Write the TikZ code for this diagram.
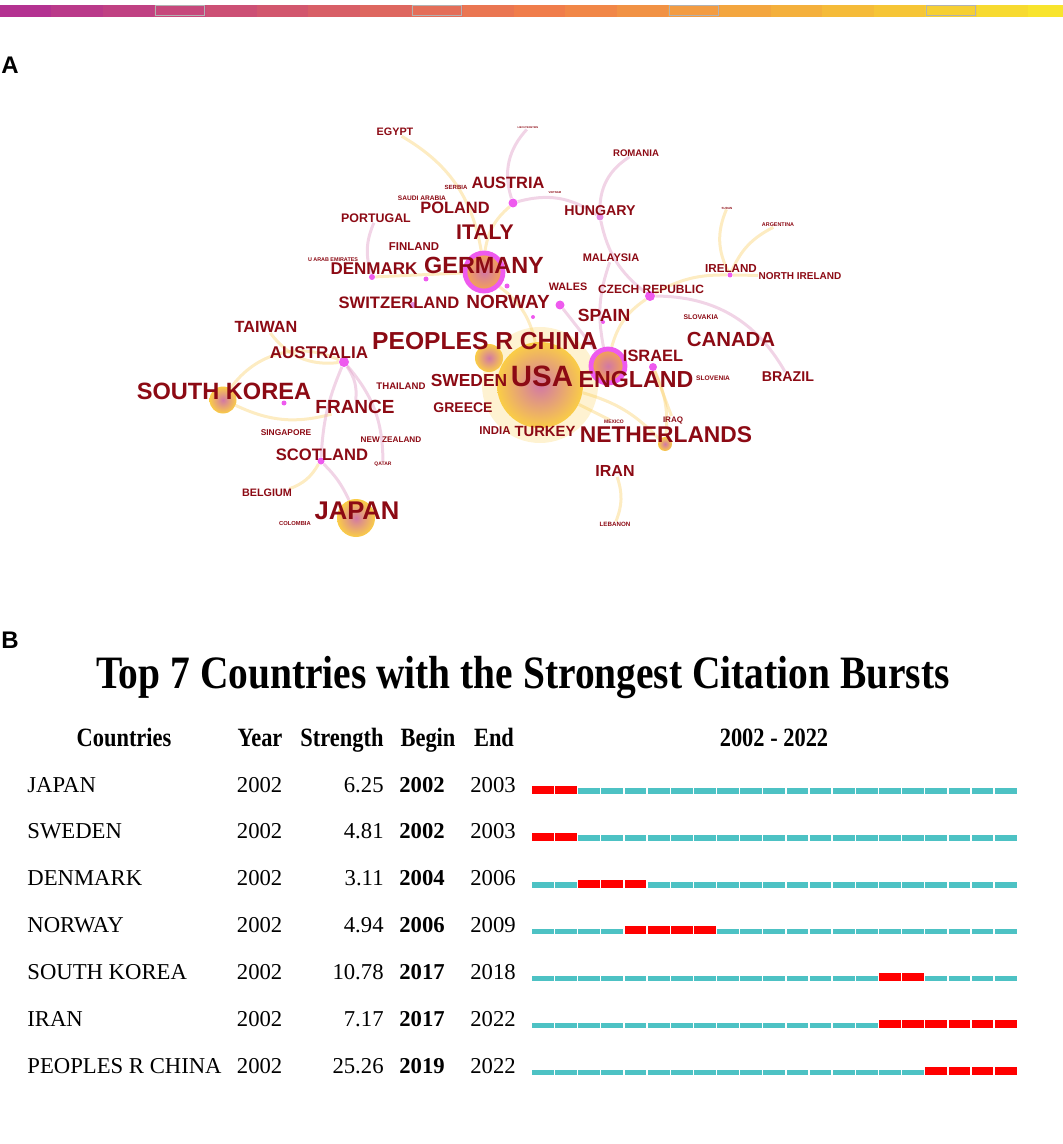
\documentclass[tikz,border=0pt]{standalone}
\usepackage{fontspec}
\setmainfont{Liberation Serif}
\setsansfont{Liberation Sans}
\newfontfamily\condfont[FakeStretch=0.85]{Liberation Serif}
\usetikzlibrary{backgrounds}
\definecolor{labred}{RGB}{140,10,20}
\definecolor{magdot}{RGB}{238,90,238}
\definecolor{lilac}{RGB}{228,140,228}
\definecolor{blobyel}{RGB}{250,205,70}
\definecolor{blobpink}{RGB}{210,120,165}
\definecolor{bloborg}{RGB}{246,165,80}
\definecolor{linky}{RGB}{250,212,120}
\definecolor{linkp}{RGB}{225,160,200}
\definecolor{barA}{RGB}{180,50,145}
\definecolor{barB}{RGB}{240,125,75}
\definecolor{barC}{RGB}{248,228,45}
\definecolor{burstteal}{RGB}{77,194,196}
\definecolor{burstred}{RGB}{255,0,0}
\tikzset{
    cty/.style={text=labred,inner sep=0pt,font=\sffamily\bfseries\fontsize{#1}{#1}\selectfont},
    dot/.style={circle,fill=magdot,inner sep=0pt,minimum size=#1},
    blob/.style={circle,inner sep=0pt,minimum size=#1,inner color=blobpink,outer color=blobyel},
    ringblob/.style={circle,inner sep=0pt,minimum size=#1,draw=magdot,line width=2.4pt,inner color=blobpink,outer color=bloborg},
    halo/.style={circle,inner sep=0pt,minimum size=#1,fill=blobyel,opacity=0.25},
    linky/.style={draw=linky,line width=1.5pt,opacity=0.45},
    linkp/.style={draw=linkp,line width=1.5pt,opacity=0.45},
    panel/.style={font=\sffamily\bfseries\fontsize{12}{12}\selectfont,inner sep=0pt},
    cell/.style={inner sep=0pt,font=\fontsize{11.35}{11.35}\selectfont},
    headcell/.style={inner sep=0pt,font=\condfont\bfseries\fontsize{13.2}{13.2}\selectfont},
    seg/.style={fill=burstteal},
    burst/.style={fill=burstred}
}

\begin{document}
\begin{tikzpicture}[x=0.5pt,y=-0.5pt]
    \useasboundingbox (0,0) rectangle (1063,1144);
    % colour strip
    \foreach \i in {0,...,20} {
        \pgfmathtruncatemacro{\mixa}{100-10*\i}
        \pgfmathtruncatemacro{\mixb}{200-10*\i}
        \pgfmathtruncatemacro{\m}{mod(\i,5)}
        \ifnum\i<11 \colorlet{segc}{barA!\mixa!barB}\else \colorlet{segc}{barB!\mixb!barC}\fi
        \fill[segc] ({51.4*\i},5) rectangle ({min(51.4*\i+51.4,1063)},17);
        \ifnum\m=3 \draw[gray!60,line width=0.5pt] ({51.4*\i+1},6) rectangle ({51.4*\i+50.4},16);\fi
    }
    \node[panel] (pa) at (10,65) {A};
    \node[panel] (pb) at (10,640) {B};

    % network
    \node[halo=58] (h-usa) at (540,385) {};
    \node[blob=43] (b-usa) at (540,385) {};
    \node[blob=14] (b-china) at (489,358) {};
    \node[blob=13.5] (b-korea) at (223,400) {};
    \node[blob=19] (b-japan) at (356,518) {};
    \node[blob=7] (b-nether) at (665,444) {};
    \node[ringblob=19] (b-germany) at (484,272) {};
    \node[ringblob=17] (b-england) at (608,366) {};
    \node[dot=4.5] (d-austria) at (513,203) {};
    \node[dot=3.5,fill=lilac] (d-hungary) at (600,217) {};
    \node[dot=5] (d-czech) at (650,296) {};
    \node[dot=2.5] (d-ireland) at (730,275) {};
    \node[dot=4.5] (d-wales) at (560,305) {};
    \node[dot=2] (d-spain) at (603,322) {};
    \node[dot=4] (d-israel) at (653,367) {};
    \node[dot=2] (d-norway) at (533,317) {};
    \node[dot=5] (d-australia) at (344,362) {};
    \node[dot=2.5] (d-korea) at (284,403) {};
    \node[dot=3.5] (d-scotland) at (321,461) {};
    \node[dot=3] (d-denmark) at (372,277) {};
    \node[dot=2.5] (d-finland) at (426,279) {};
    \node[dot=2.5] (d-germany) at (507,286) {};
    \node[dot=3,fill=lilac] (d-switz) at (413,305) {};

    \node[cty=1.3] (liecht) at (528,128) {LIECHTENSTEIN};
    \node[cty=5.4] (egypt) at (395,132) {EGYPT};
    \node[cty=4.8] (romania) at (636,153) {ROMANIA};
    \node[cty=3] (serbia) at (456,187) {SERBIA};
    \node[cty=8.2] (austria) at (508,183) {AUSTRIA};
    \node[cty=1.4] (vietnam) at (555,193) {VIETNAM};
    \node[cty=3.3] (saudi) at (422,198) {SAUDI ARABIA};
    \node[cty=8.2] (poland) at (455,208) {POLAND};
    \node[cty=7.1] (hungary) at (600,211) {HUNGARY};
    \node[cty=1.5] (sudan) at (727,208) {SUDAN};
    \node[cty=2.7] (argentina) at (778,225) {ARGENTINA};
    \node[cty=6.2] (portugal) at (376,218) {PORTUGAL};
    \node[cty=10.6] (italy) at (485,232) {ITALY};
    \node[cty=5.7] (finland) at (414,247) {FINLAND};
    \node[cty=5.5] (malaysia) at (611,258) {MALAYSIA};
    \node[cty=2.7] (uae) at (333,259.5) {U ARAB EMIRATES};
    \node[cty=8.5] (denmark) at (374,269) {DENMARK};
    \node[cty=11.7] (germany) at (484,265) {GERMANY};
    \node[cty=5.8] (ireland) at (731,269) {IRELAND};
    \node[cty=5] (nireland) at (800,276) {NORTH IRELAND};
    \node[cty=5.4] (wales) at (568,287) {WALES};
    \node[cty=6] (czech) at (651,289) {CZECH REPUBLIC};
    \node[cty=8.3] (switz) at (399,303) {SWITZERLAND};
    \node[cty=9.5] (norway) at (508,302) {NORWAY};
    \node[cty=8.8] (spain) at (604,315) {SPAIN};
    \node[cty=3.4] (slovakia) at (701,317) {SLOVAKIA};
    \node[cty=8.1] (taiwan) at (266,327) {TAIWAN};
    \node[cty=12.3] (china) at (485,341) {PEOPLES R CHINA};
    \node[cty=10.2] (canada) at (731,339) {CANADA};
    \node[cty=8.5] (australia) at (319,353) {AUSTRALIA};
    \node[cty=8.2] (israel) at (653,356) {ISRAEL};
    \node[cty=14.7] (usa) at (542,376) {USA};
    \node[cty=11.6] (england) at (636,380) {ENGLAND};
    \node[cty=8.7] (sweden) at (469,381) {SWEDEN};
    \node[cty=4.8] (thailand) at (401,386) {THAILAND};
    \node[cty=3.3] (slovenia) at (713,378) {SLOVENIA};
    \node[cty=7.1] (brazil) at (788,377) {BRAZIL};
    \node[cty=11.8] (korea) at (224,391) {SOUTH KOREA};
    \node[cty=9.5] (france) at (355,407) {FRANCE};
    \node[cty=7] (greece) at (463,408) {GREECE};
    \node[cty=2.5] (mexico) at (614,422) {MEXICO};
    \node[cty=4] (iraq) at (673,420) {IRAQ};
    \node[cty=4.2] (singapore) at (286,433) {SINGAPORE};
    \node[cty=5.7] (india) at (495,431) {INDIA};
    \node[cty=7.4] (turkey) at (545,431) {TURKEY};
    \node[cty=11.4] (nether) at (666,435) {NETHERLANDS};
    \node[cty=4.1] (nzealand) at (391,440) {NEW ZEALAND};
    \node[cty=8.3] (scotland) at (322,455) {SCOTLAND};
    \node[cty=2.5] (qatar) at (383,464) {QATAR};
    \node[cty=8] (iran) at (615,471) {IRAN};
    \node[cty=5.4] (belgium) at (267,493) {BELGIUM};
    \node[cty=12.8] (japan) at (357,511) {JAPAN};
    \node[cty=2.9] (colombia) at (295,524) {COLOMBIA};
    \node[cty=3.1] (lebanon) at (615,524) {LEBANON};

    \begin{pgfonlayer}{background}
    \draw[linky] (egypt) to[bend left=25] (b-germany);
    \draw[linkp] (liecht) to[bend right=30] (d-austria);
    \draw[linkp] (d-austria) to[bend left=25] (d-hungary);
    \draw[linkp] (romania) to[bend right=30] (d-hungary);
    \draw[linkp] (d-hungary) to[bend right=20] (d-czech);
    \draw[linky] (sudan) to[bend right=25] (d-ireland);
    \draw[linky] (argentina) to[bend right=20] (d-ireland);
    \draw[linky] (d-ireland) to[bend right=15] (d-czech);
    \draw[linky] (nireland) -- (d-ireland);
    \draw[linkp] (d-czech) to[bend left=30] (brazil);
    \draw[linky] (d-czech) to[bend right=20] (b-england);
    \draw[linky] (d-austria) to[bend right=20] (b-germany);
    \draw[linkp] (portugal) to[bend right=20] (d-denmark);
    \draw[linky] (d-denmark) -- (b-germany);
    \draw[linky] (taiwan) to[bend right=30] (d-australia);
    \draw[linky] (b-korea) to[bend left=40] (d-australia);
    \draw[linky] (b-korea) to[bend right=20] (france);
    \draw[linkp] (d-australia) to[bend left=20] (france);
    \draw[linkp] (d-australia) to[bend right=10] (d-scotland);
    \draw[linkp] (d-scotland) to[bend left=10] (b-japan);
    \draw[linky] (belgium) to[bend right=20] (d-scotland);
    \draw[linkp] (qatar) to[bend right=20] (d-australia);
    \draw[linky] (b-china) -- (b-usa);
    \draw[linky] (b-usa) -- (b-england);
    \draw[linky] (b-usa) to[bend right=20] (b-germany);
    \draw[linky] (b-usa) to[bend left=15] (b-nether);
    \draw[linky] (iran) to[bend left=20] (lebanon);
    \draw[linky] (d-israel) to[bend left=15] (b-nether);
    \draw[linky] (iraq) -- (d-israel);
    \draw[linkp] (d-wales) -- (b-england);
    \draw[linky] (mexico) -- (b-usa);
    \draw[linkp] (malaysia) to[bend right=15] (b-england);
    \end{pgfonlayer}

    % burst table
    \node[inner sep=0pt,anchor=base,font=\condfont\bfseries\fontsize{23.2}{23.2}\selectfont] (title) at (523,688) {Top 7 Countries with the Strongest Citation Bursts};
    \node[headcell,anchor=base] (hcty) at (124,746) {Countries};
    \node[headcell,anchor=base] (hyear) at (260,746) {Year};
    \node[headcell,anchor=base] (hstr) at (342,746) {Strength};
    \node[headcell,anchor=base] (hbeg) at (428,746) {Begin};
    \node[headcell,anchor=base] (hend) at (494,746) {End};
    \node[headcell,anchor=base] (hspan) at (774,746) {2002 - 2022};
    \foreach \name/\str/\beg/\fin/\ra/\rb [count=\r from 0] in {JAPAN/6.25/2002/2003/0/1, SWEDEN/4.81/2002/2003/0/1, DENMARK/3.11/2004/2006/2/4, NORWAY/4.94/2006/2009/4/7, SOUTH KOREA/10.78/2017/2018/15/16, IRAN/7.17/2017/2022/15/20, PEOPLES R CHINA/25.26/2019/2022/17/20} {
        \pgfmathsetmacro{\yb}{792+46.9*\r}
        \node[cell,anchor=base west] (cty\r) at (27,\yb) {\name};
        \node[cell,anchor=base west] (yr\r) at (236.5,\yb) {2002};
        \node[cell,anchor=base east] (str\r) at (384,\yb) {\str};
        \node[cell,anchor=base,font=\bfseries\fontsize{11.35}{11.35}\selectfont] (beg\r) at (422,\yb) {\beg};
        \node[cell,anchor=base] (end\r) at (493,\yb) {\fin};
        \foreach \k in {0,...,20} {
            \ifnum\k<\ra \fill[seg] ({532+23.14*\k},\yb-3.6) rectangle ({553.8+23.14*\k},\yb+1.7);
            \else\ifnum\k>\rb \fill[seg] ({532+23.14*\k},\yb-3.6) rectangle ({553.8+23.14*\k},\yb+1.7);
            \else \fill[burst] ({532+23.14*\k},\yb-6.3) rectangle ({553.8+23.14*\k},\yb+1.7);
            \fi\fi
        }
    }
\end{tikzpicture}
\end{document}
